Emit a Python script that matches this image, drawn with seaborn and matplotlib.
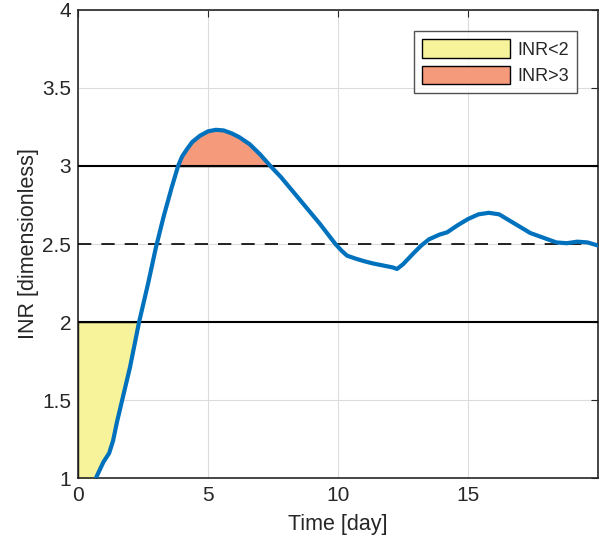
import matplotlib
matplotlib.use("Agg")
import matplotlib.pyplot as plt
import seaborn as sns
import numpy as np
import pandas as pd
from matplotlib.patches import Patch

time_day = [0.0, 0.4, 0.69, 0.97, 1.2, 1.35, 1.5, 1.7, 2.0, 2.35, 2.7, 3.0, 3.3, 3.6, 3.85,
            4.0, 4.2, 4.4, 4.7, 5.0, 5.3, 5.6, 5.9, 6.2, 6.6, 7.0, 7.4, 7.8, 8.3, 8.8,
            9.3, 9.9, 10.15, 10.35, 10.7, 11.0, 11.35, 11.8, 12.1, 12.27, 12.5, 12.9, 13.2,
            13.5, 13.9, 14.2, 14.6, 15.0, 15.4, 15.8, 16.2, 16.6, 17.0, 17.4, 17.9, 18.4,
            18.8, 19.2, 19.6, 20.0]
inr = [0.75, 0.88, 1.0, 1.10, 1.16, 1.24, 1.36, 1.5, 1.71, 2.0, 2.25, 2.48, 2.68, 2.86, 3.0,
       3.06, 3.11, 3.155, 3.195, 3.222, 3.232, 3.228, 3.21, 3.185, 3.14, 3.075, 3.0, 2.93, 2.83, 2.73,
       2.63, 2.5, 2.455, 2.425, 2.405, 2.39, 2.375, 2.36, 2.35, 2.34, 2.37, 2.44, 2.49,
       2.53, 2.56, 2.575, 2.62, 2.66, 2.69, 2.70, 2.69, 2.65, 2.61, 2.57, 2.54, 2.51,
       2.505, 2.515, 2.51, 2.49]

low_limit = 2.0
target = 2.5
high_limit = 3.0
legend_labels = ["INR<2", "INR>3"]

blue = "#0072BD"
yellow = "#F7F39B"
salmon = "#F59A7B"

sns.set_theme(style="whitegrid")
plt.rcParams['font.family'] = ['Liberation Sans', 'DejaVu Sans']

fig = plt.figure(figsize=(6.05, 5.45), dpi=100)
ax = fig.add_axes([78/605, 67/545, 520/605, 468/545])

df = pd.DataFrame({"t": time_day, "inr": inr})
t = np.array(time_day)
y = np.array(inr)

ax.fill_between(t, y, low_limit, where=y <= low_limit + 1e-9, interpolate=True,
                facecolor=yellow, edgecolor="black", linewidth=1.0, zorder=2)
ax.fill_between(t, y, high_limit, where=y >= high_limit - 1e-9, interpolate=True,
                facecolor=salmon, edgecolor="black", linewidth=1.0, zorder=2)

ax.axhline(low_limit, color="black", lw=1.5, zorder=3)
ax.axhline(high_limit, color="black", lw=1.5, zorder=3)
ax.axhline(target, color="black", lw=1.2, ls=(0, (8, 6)), zorder=3)

sns.lineplot(data=df, x="t", y="inr", ax=ax, color=blue, lw=3, zorder=4)
for ln in ax.lines:
    ln.set_solid_joinstyle("round")
    ln.set_solid_capstyle("round")

ax.set_xlim(0, 20)
ax.set_ylim(1, 4)
ax.set_xticks([0, 5, 10, 15])
ax.set_yticks([1, 1.5, 2, 2.5, 3, 3.5, 4])
ax.set_yticklabels(["1", "1.5", "2", "2.5", "3", "3.5", "4"])
ax.set_xlabel("Time [day]", fontsize=15.5, color="#262626", labelpad=6)
ax.set_ylabel("INR [dimensionless]", fontsize=15.5, color="#262626", labelpad=2)
ax.tick_params(axis="both", labelsize=15, colors="#262626", direction="in",
               length=5, width=0.8, pad=5, top=True, right=True)
ax.tick_params(axis="x", pad=6)
ax.grid(True, color="#dcdcdc", lw=0.8)
ax.set_facecolor("white")
for s in ax.spines.values():
    s.set_color("#262626")
    s.set_linewidth(1.2)
    s.set_visible(True)

handles = [Patch(facecolor=yellow, edgecolor="black", lw=1.0),
           Patch(facecolor=salmon, edgecolor="black", lw=1.0)]
leg = ax.legend(handles, legend_labels, loc="upper right", bbox_to_anchor=(0.96, 0.955),
                fontsize=13, frameon=True, fancybox=False, edgecolor="#262626",
                handlelength=4.9, handleheight=1.2, borderpad=0.45, labelspacing=0.4,
                handletextpad=0.4, borderaxespad=0.0)
leg.get_frame().set_linewidth(1.0)
leg.set_zorder(10)

fig.savefig("out.png", dpi=100, facecolor="white")
